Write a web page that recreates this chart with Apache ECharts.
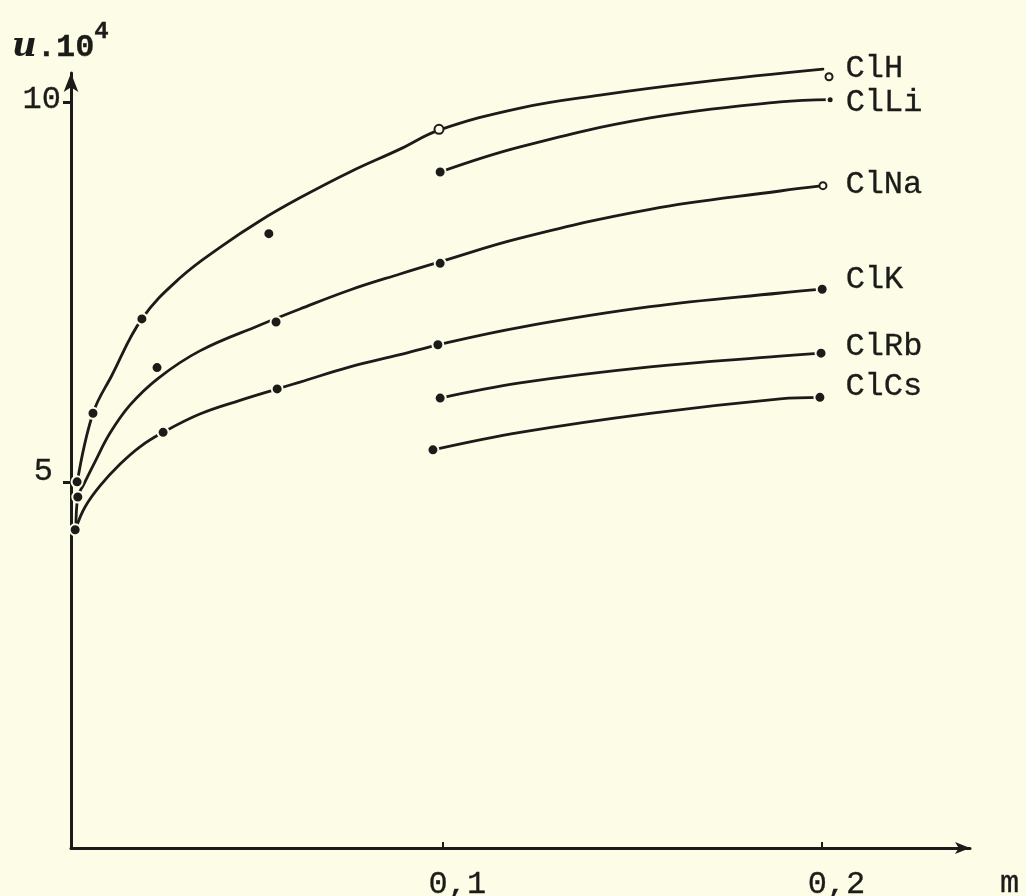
<!DOCTYPE html>
<html>
<head>
<meta charset="utf-8">
<script src="https://cdn.jsdelivr.net/npm/echarts@6/dist/echarts.min.js"></script>
<style>
  html, body { margin: 0; padding: 0; background: #fdfde7; }
  #chart { width: 1026px; height: 896px; }
</style>
</head>
<body>
<div id="chart"></div>
<script>
// Mobility u·10^4 of chloride solutions against molality m
const salts = ['ClH', 'ClLi', 'ClNa', 'ClK', 'ClRb', 'ClCs'];

// axis ticks
const xTicks = [0.1, 0.2];
const xTickLabels = ['0,1', '0,2'];
const yTicks = [5, 10];
const yTickLabels = ['5', '10'];

// measured points [m, u·10^4]
const ptsClH  = [[0.0036, 5.01], [0.0078, 5.91], [0.0207, 7.15], [0.0991, 9.64], [0.2020, 10.33]];
const ptsClLi = [[0.0542, 8.27], [0.0994, 9.08], [0.2023, 10.03]];
const ptsClNa = [[0.0038, 4.81], [0.0247, 6.51], [0.0561, 7.11], [0.0994, 7.88], [0.2004, 8.90]];
const ptsClK  = [[0.0031, 4.38], [0.0263, 5.66], [0.0564, 6.23], [0.0988, 6.81], [0.2002, 7.54]];
const ptsClRb = [[0.0994, 6.11], [0.1999, 6.70]];
const ptsClCs = [[0.0975, 5.43], [0.1996, 6.12]];

// hand-fitted curves through the measurements [m, u·10^4]
const curveClH  = [[0.0036, 4.99], [0.0078, 5.91], [0.0128, 6.41], [0.0207, 7.15], [0.0308, 7.69],
                   [0.0416, 8.10], [0.0519, 8.44], [0.0624, 8.74], [0.0756, 9.08], [0.0888, 9.38],
                   [0.0991, 9.63], [0.1205, 9.92], [0.1416, 10.09], [0.1680, 10.26], [0.2004, 10.43]];
const curveClLi = [[0.0994, 9.08], [0.1205, 9.41], [0.1548, 9.79], [0.1891, 10.00], [0.2023, 10.03]];
const curveClNa = [[0.0033, 4.40], [0.0038, 4.81], [0.0054, 4.98], [0.0083, 5.27], [0.0123, 5.65],
                   [0.0176, 6.02], [0.0250, 6.37], [0.0360, 6.73], [0.0519, 7.07], [0.0624, 7.28],
                   [0.0756, 7.53], [0.0888, 7.74], [0.0994, 7.90], [0.1205, 8.21], [0.1548, 8.59],
                   [0.1891, 8.83], [0.2004, 8.90]];
const curveClK  = [[0.0033, 4.40], [0.0057, 4.68], [0.0097, 4.96], [0.0149, 5.24], [0.0202, 5.47],
                   [0.0263, 5.66], [0.0360, 5.90], [0.0466, 6.08], [0.0564, 6.23], [0.0624, 6.32],
                   [0.0756, 6.52], [0.0888, 6.68], [0.0988, 6.81], [0.1205, 7.04], [0.1548, 7.31],
                   [0.1891, 7.49], [0.2002, 7.54]];
const curveClRb = [[0.0994, 6.11], [0.1205, 6.31], [0.1548, 6.52], [0.1891, 6.66], [0.1999, 6.70]];
const curveClCs = [[0.0975, 5.43], [0.1205, 5.66], [0.1548, 5.91], [0.1891, 6.10], [0.1996, 6.12]];

const points = [ptsClH, ptsClLi, ptsClNa, ptsClK, ptsClRb, ptsClCs];
const curves = [curveClH, curveClLi, curveClNa, curveClK, curveClRb, curveClCs];

// marker styling
const BG = '#fdfde7';
const INK = '#1b1b19';
const MONO = '"Liberation Mono", "DejaVu Sans Mono", monospace';
const TEXT = { fontFamily: MONO, fontSize: 32, color: INK, textBorderColor: INK, textBorderWidth: 0.3 };
const openMarks  = { ClH: [3, 4], ClNa: [4] };
const smallMarks = { ClH: [4], ClLi: [2], ClNa: [4] };
const labelGap = { ClH: 12, ClLi: 11, ClNa: 18, ClK: 17, ClRb: 18, ClCs: 19 };
const labelDy  = { ClH: -8, ClLi: 3, ClNa: -1, ClK: -10, ClRb: -7, ClCs: -11 };

const series = [];
salts.forEach((name, i) => {
  series.push({
    type: 'line',
    name: name,
    data: curves[i],
    smooth: 0.4,
    showSymbol: false,
    symbol: 'none',
    silent: true,
    clip: false,
    z: 2,
    lineStyle: { color: INK, width: 2.8, cap: 'round' }
  });
  series.push({
    type: 'scatter',
    name: name,
    silent: true,
    clip: false,
    z: 3,
    data: points[i].map((p, k) => {
      const open = (openMarks[name] || []).includes(k);
      const small = (smallMarks[name] || []).includes(k);
      const item = {
        value: p,
        symbolSize: small ? 7 : (open ? 9 : 11),
        itemStyle: open
          ? { color: BG, borderColor: INK, borderWidth: 2, opacity: 1 }
          : { color: INK, borderColor: BG, borderWidth: 2, opacity: 1 }
      };
      if (k === points[i].length - 1) {
        item.label = Object.assign({
          show: true,
          formatter: name,
          position: 'right',
          distance: labelGap[name],
          offset: [0, labelDy[name]]
        }, TEXT);
      }
      return item;
    })
  });
});

const chart = echarts.init(document.getElementById('chart'), null, { renderer: 'canvas' });
chart.setOption({
  backgroundColor: BG,
  animation: false,
  title: {
    text: '{u|u}{d|.10}{s|4}',
    left: 7,
    top: 15,
    textStyle: {
      rich: {
        u: { fontFamily: '"DejaVu Serif", serif', fontStyle: 'italic', fontWeight: 'bold', fontSize: 34, color: INK, lineHeight: 44, verticalAlign: 'bottom' },
        d: Object.assign({}, TEXT, { lineHeight: 44, verticalAlign: 'bottom' }),
        s: Object.assign({}, TEXT, { fontSize: 24, lineHeight: 44, verticalAlign: 'top' })
      }
    }
  },
  grid: { left: 71, right: 56, top: 73, bottom: 48, containLabel: false, outerBoundsMode: 'none' },
  xAxis: {
    type: 'value',
    min: 0.002,
    max: 0.2392,
    name: '{m|m}',
    nameLocation: 'end',
    nameGap: 30,
    nameTextStyle: {
      rich: { m: Object.assign({}, TEXT, { padding: [72, 0, 0, 0] }) }
    },
    axisLine: { show: true, onZero: false, symbol: ['none', 'arrow'], symbolSize: [9, 15], lineStyle: { color: INK, width: 3 } },
    axisTick: { show: true, inside: true, length: 6, customValues: xTicks, lineStyle: { color: INK, width: 2 } },
    axisLabel: Object.assign({
      customValues: xTicks,
      formatter: v => xTickLabels[xTicks.findIndex(t => Math.abs(t - v) < 1e-9)],
      margin: 21,
      padding: [0, 0, 0, 30]
    }, TEXT),
    splitLine: { show: false }
  },
  yAxis: {
    type: 'value',
    min: 0.2,
    max: 10.38,
    axisLine: { show: true, onZero: false, symbol: ['none', 'arrow'], symbolSize: [11, 19], lineStyle: { color: INK, width: 3 } },
    axisTick: { show: true, inside: false, length: 8, customValues: yTicks, lineStyle: { color: INK, width: 3 } },
    axisLabel: {
      customValues: yTicks,
      margin: 10,
      formatter: v => {
        const i = yTicks.findIndex(t => Math.abs(t - v) < 1e-9);
        return '{t' + i + '|' + yTickLabels[i] + '}';
      },
      rich: {
        t0: Object.assign({}, TEXT, { padding: [0, 8, 22, 0] }),
        t1: Object.assign({}, TEXT, { padding: [0, 0, 4, 0] })
      }
    },
    splitLine: { show: false }
  },
  series: series
});
</script>
</body>
</html>
